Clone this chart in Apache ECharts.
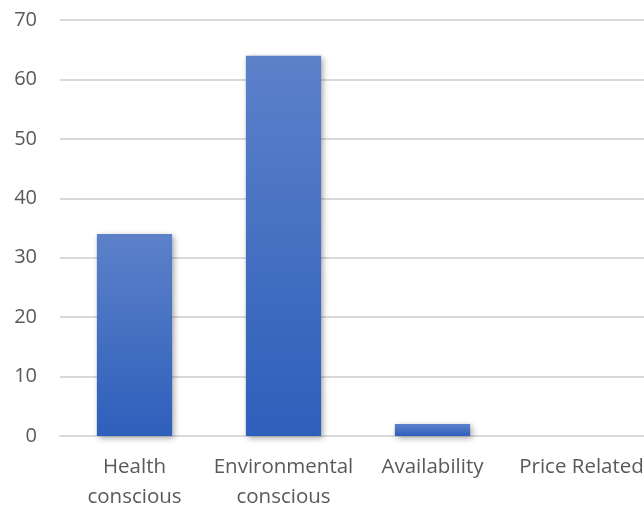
<!DOCTYPE html>
<html>
<head>
<meta charset="utf-8">
<script src="https://cdn.jsdelivr.net/npm/echarts@6/dist/echarts.min.js"></script>
<style>
  html, body { margin: 0; padding: 0; background: #fff; }
  #chart { width: 644px; height: 506px; }
</style>
</head>
<body>
<div id="chart"></div>
<script>
const categories = ['Health\nconscious', 'Environmental\nconscious', 'Availability', 'Price Related'];
const values = [34, 64, 2, 0];
const yTicks = { min: 0, max: 70, interval: 10 };

const chart = echarts.init(document.getElementById('chart'));
chart.setOption({
  animation: false,
  grid: {
    left: 60, top: 20, width: 596, height: 416,
    containLabel: false,
    outerBoundsMode: 'none'
  },
  xAxis: {
    type: 'category',
    data: categories,
    axisLine: { lineStyle: { color: '#d9d9d9', width: 2 } },
    axisTick: { show: false },
    axisLabel: {
      color: '#595959',
      fontFamily: 'Open Sans',
      fontSize: 20.5,
      lineHeight: 30,
      margin: 16,
      interval: 0
    }
  },
  yAxis: {
    type: 'value',
    min: yTicks.min,
    max: yTicks.max,
    interval: yTicks.interval,
    axisLine: { show: false },
    axisTick: { show: false },
    splitLine: { lineStyle: { color: '#d9d9d9', width: 2 } },
    axisLabel: {
      color: '#595959',
      fontFamily: 'Open Sans',
      fontSize: 20,
      margin: 23
    }
  },
  series: [{
    type: 'bar',
    data: values,
    barWidth: '50.5%',
    itemStyle: {
      color: new echarts.graphic.LinearGradient(0, 0, 0, 1, [
        { offset: 0, color: '#5c81c9' },
        { offset: 1, color: '#2e5fbb' }
      ]),
      shadowBlur: 6,
      shadowColor: 'rgba(0,0,0,0.35)',
      shadowOffsetX: 2,
      shadowOffsetY: 2
    }
  }]
});
</script>
</body>
</html>
